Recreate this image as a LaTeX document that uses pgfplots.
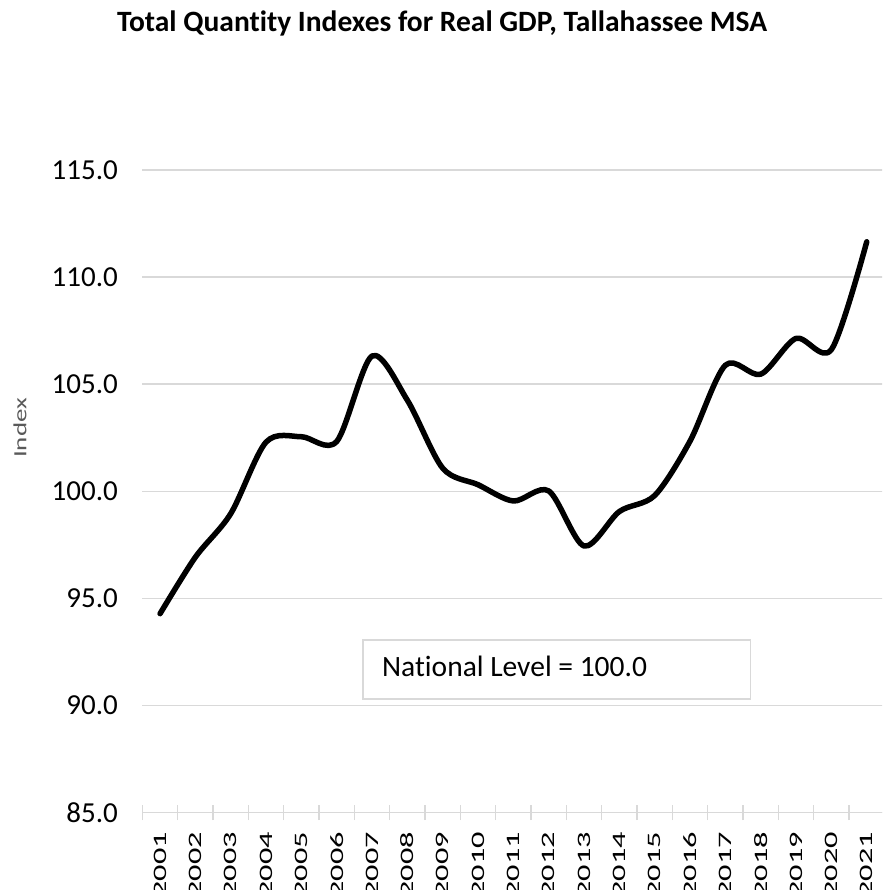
\documentclass[border=0pt]{standalone}
\usepackage{fontspec}
\setmainfont{Carlito}[Ligatures={NoCommon}]
\usepackage{graphicx}
\usepackage{pgfplots}
\pgfplotsset{compat=1.18}
\definecolor{gridgray}{RGB}{217,217,217}
\definecolor{labgray}{RGB}{89,89,89}
\newcommand{\xl}[1]{\scalebox{1.7}[1]{#1}}
\pgfplotstableread{
x y
0 94.29
1 96.93
2 98.96
3 102.30
4 102.55
5 102.33
6 106.32
7 104.25
8 101.08
9 100.31
10 99.55
11 100.02
12 97.45
13 99.06
14 99.81
15 102.35
16 105.89
17 105.47
18 107.14
19 106.62
20 111.65
}\gdpdata
\begin{document}
\begin{tikzpicture}
\useasboundingbox (0pt,0pt) rectangle (882pt,-890pt);
\clip (0pt,0pt) rectangle (882pt,-890pt);
\node[font=\bfseries\fontsize{29.5}{34}\selectfont, anchor=base] at (442pt,-32pt) {Total Quantity Indexes for Real GDP, Tallahassee MSA};
\begin{axis}[
  at={(142.4pt,-812.7pt)}, anchor=south west,
  scale only axis, width=742pt, height=642.7pt,
  xmin=-0.5, xmax=20.5, ymin=85, ymax=115,
  axis lines*=left,
  x axis line style={draw=gridgray, line width=1.5pt},
  y axis line style={draw=none},
  ymajorgrids, grid style={draw=gridgray, line width=1.5pt},
  ytick={85,90,...,115},
  xtick={0,...,20},
  xticklabels={\xl{2001},\xl{2002},\xl{2003},\xl{2004},\xl{2005},\xl{2006},\xl{2007},\xl{2008},\xl{2009},\xl{2010},\xl{2011},\xl{2012},\xl{2013},\xl{2014},\xl{2015},\xl{2016},\xl{2017},\xl{2018},\xl{2019},\xl{2020},\xl{2021}},
  minor xtick={-0.5,0.5,...,20.5},
  major tick length=0pt, minor tick length=15pt, tick align=center,
  xtick style={draw=gridgray, line width=1.5pt},
  ytick style={draw=none},
  /pgf/number format/assume math mode=true,
  yticklabel={\pgfmathprintnumber[fixed,fixed zerofill,precision=1]{\tick}},
  yticklabel style={font=\fontsize{29}{33}\selectfont, anchor=east, inner sep=0pt},
  yticklabel shift=24.4pt,
  xticklabel style={font=\fontsize{19}{22}\selectfont, rotate=90, anchor=east, inner sep=0pt},
  xticklabel shift=19.3pt,
  ylabel={\scalebox{1.45}[1]{Index}},
  ylabel style={at={(axis description cs:-0.165,0.5986)}, anchor=center, font=\fontsize{18.6}{22}\selectfont, text=labgray, inner sep=0pt},
  clip=false,
]
\addplot[black, line width=5.5pt, smooth, tension=0.5, line cap=round, line join=round] table[x=x,y=y] {\gdpdata};
\draw[gridgray, line width=1.2pt] (axis cs:5.744,90.31) rectangle (axis cs:16.70,93.06);
\node[anchor=base west, inner sep=0pt, font=\fontsize{29.5}{34}\selectfont] at (axis cs:6.28,91.35) {National Level = 100.0};
\end{axis}
\end{tikzpicture}
\end{document}
